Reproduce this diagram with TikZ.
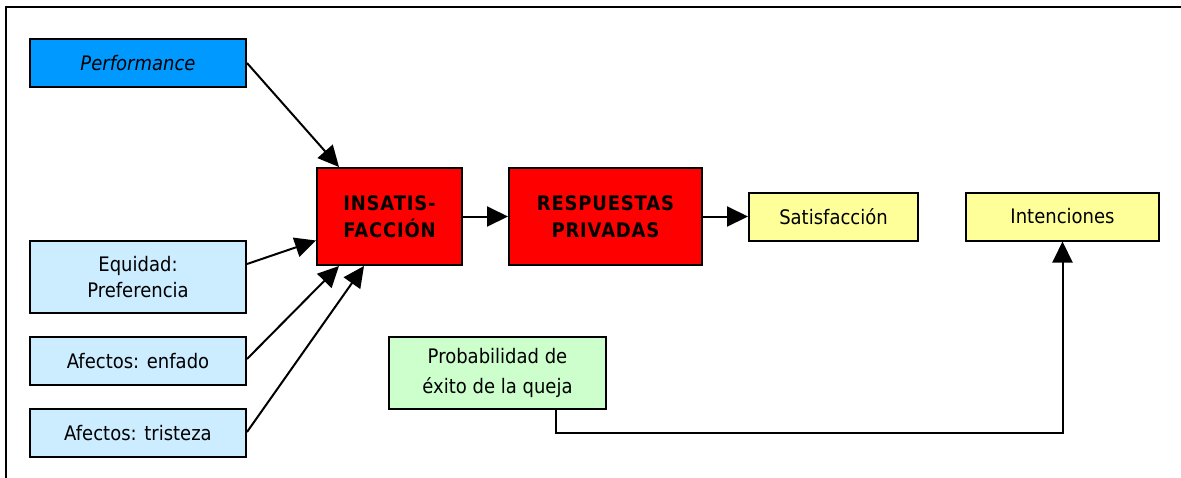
\documentclass[tikz,border=0pt]{standalone}
\usepackage{fontspec}
\setmainfont{DejaVu Sans}[FakeStretch=0.9]
\usetikzlibrary{arrows.meta,calc}
\definecolor{perfblue}{HTML}{0099FF}
\definecolor{paleblue}{HTML}{CCECFF}
\definecolor{boxred}{HTML}{FF0000}
\definecolor{paleyellow}{HTML}{FFFF99}
\definecolor{palegreen}{HTML}{CCFFCC}
\begin{document}
\begin{tikzpicture}[x=1pt,y=-1pt,
  box/.style={draw=black,line width=2pt,inner sep=0pt,align=center,
    font=\fontsize{20}{26}\selectfont},
  bold/.style={box,fill=boxred,minimum height=97pt,
    font=\fontsize{20}{27}\selectfont\bfseries\addfontfeature{LetterSpace=4}},
  conn/.style={line width=2pt,-{Triangle[length=21pt,width=20pt]}}]
\useasboundingbox (0,0) rectangle (1181,477);
\draw[line width=2pt] (6,478) -- (6,7) -- (1182,7);
% left column
\node[box,fill=perfblue,minimum width=216pt,minimum height=48pt,
  font=\fontsize{20}{26}\selectfont\itshape] (perf) at (138,63) {Performance};
\node[box,fill=paleblue,minimum width=216pt,minimum height=72pt] (equ) at (138,277) {Equidad:\\Preferencia};
\node[box,fill=paleblue,minimum width=216pt,minimum height=48pt] (enf) at (138,361) {Afectos: enfado};
\node[box,fill=paleblue,minimum width=216pt,minimum height=48pt] (tri) at (138,433) {Afectos: tristeza};
% red boxes
\node[bold,minimum width=145pt] (ins) at (389.5,216.5) {INSATIS-\\FACCIÓN};
\node[bold,minimum width=193pt] (resp) at (605.5,216.5) {RESPUESTAS\\PRIVADAS};
% yellow boxes
\node[box,fill=paleyellow,minimum width=169pt,minimum height=48pt] (sat) at (833.5,216.5) {Satisfacción};
\node[box,fill=paleyellow,minimum width=193pt,minimum height=48pt] (int) at (1062.5,216.5) {Intenciones};
% green box
\node[box,fill=palegreen,minimum width=217pt,minimum height=72pt,
  font=\fontsize{20}{30}\selectfont] (prob) at (497.5,373) {Probabilidad de\\éxito de la queja};
% connectors
\draw[conn] (perf.east) -- ($(ins.north west)+(23,0)$);
\draw[conn] ($(equ.east)+(0,-13)$) -- ($(ins.west)+(0,24)$);
\draw[conn] ($(enf.east)+(0,-2)$) -- ($(ins.south west)+(23,0)$);
\draw[conn] ($(tri.east)+(0,-1)$) -- ($(ins.south west)+(48,0)$);
\draw[conn] (ins.east) -- (resp.west);
\draw[conn] (resp.east) -- (sat.west);
\draw[conn] ($(prob.south west)+(168,0)$) -- ++(0,23) -| (int.south);
\end{tikzpicture}
\end{document}
